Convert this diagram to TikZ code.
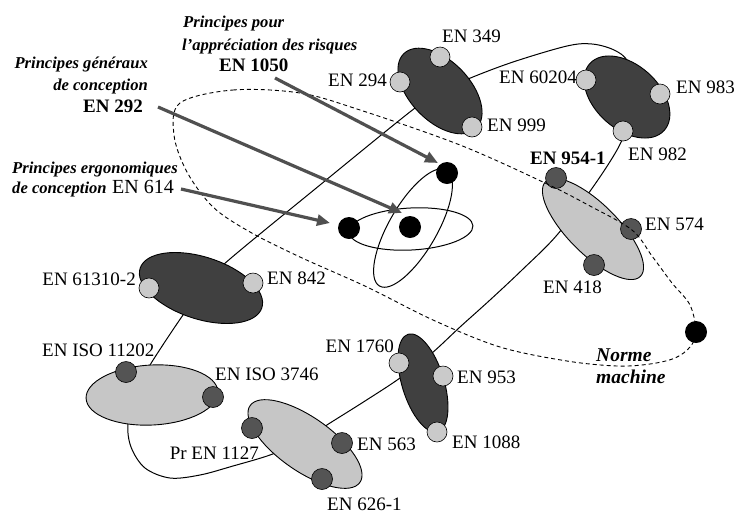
\documentclass[tikz,border=0pt]{standalone}
\usepackage{fontspec}
\setmainfont{Liberation Serif}
\usetikzlibrary{shapes.geometric,arrows.meta}
\definecolor{dkfill}{HTML}{404040}
\definecolor{ltfill}{HTML}{C6C6C6}
\definecolor{pinlt}{HTML}{CACACA}
\definecolor{pindk}{HTML}{545454}
\definecolor{arrowgray}{HTML}{505050}
\begin{document}
\begin{tikzpicture}[x=1pt,y=-1pt,
  traj/.style={line width=1pt},
  dashcurve/.style={line width=0.9pt, dash pattern=on 4pt off 3pt},
  orbit/.style={ellipse, draw=black, line width=1pt, inner sep=0pt, outer sep=0pt},
  clusterdark/.style={ellipse, draw=black, line width=0.9pt, fill=dkfill, inner sep=0pt, outer sep=0pt},
  clusterlight/.style={ellipse, draw=black, line width=0.9pt, fill=ltfill, inner sep=0pt, outer sep=0pt},
  pinlight/.style={circle, draw=black, line width=0.6pt, fill=pinlt, minimum size=20pt, inner sep=0pt},
  pindark/.style={circle, draw=black, line width=0.6pt, fill=pindk, minimum size=21pt, inner sep=0pt},
  blackdot/.style={circle, fill=black, minimum size=22pt, inner sep=0pt},
  bigarrow/.style={draw=arrowgray, line width=3.2pt, -{Triangle[length=13pt,width=11pt]}},
  lab/.style={font=\fontsize{19}{22}\selectfont, inner sep=0pt},
  labb/.style={font=\fontsize{19}{22}\selectfont\bfseries, inner sep=0pt},
  labi/.style={font=\fontsize{16.6}{20}\selectfont\bfseries\itshape, inner sep=0pt},
  labn/.style={font=\fontsize{19.5}{22}\selectfont\bfseries\itshape, inner sep=0pt}
]
\useasboundingbox (0,0) rectangle (736,515);

% trajectory linking the clusters
\draw[traj] plot[smooth cycle, tension=0.55] coordinates {
 (415,108) (441,92) (468,79) (513,62) (567,46) (592,44) (614,50) (628,62) (638,95)
 (628,125) (617,150) (593,187) (557,235) (522,270) (490,300) (460,327) (432,353)
 (400,378) (365,401) (330,423) (300,442) (270,455) (233,466) (200,475) (170,478)
 (145,468) (131,447) (128,423) (136,392) (150,365) (183,315) (203,289) (223,265) (320,185)};

% atom in the middle
\node[orbit, minimum width=124pt, minimum height=42pt, rotate=3] (orbH) at (411,229) {};
\node[orbit, minimum width=134pt, minimum height=48pt, rotate=60] (orbT) at (413,228) {};
\node[blackdot] (dTop) at (447,173) {};
\node[blackdot] (dLeft) at (349,228) {};
\node[blackdot] (dMid) at (410,227) {};

% clusters
\node[clusterdark, minimum width=104pt, minimum height=60pt, rotate=-46] (E1) at (440,91) {};
\node[pinlight] (p349) at (440,57) {};
\node[pinlight] (p294) at (400,82) {};
\node[pinlight] (p999) at (472,127) {};

\node[clusterdark, minimum width=100pt, minimum height=64pt, rotate=-42] (E2) at (627,97) {};
\node[pinlight] (p60204) at (586,80) {};
\node[pinlight] (p983) at (660,94) {};
\node[pinlight] (p982) at (623,131) {};

\node[clusterlight, minimum width=134pt, minimum height=50pt, rotate=-45] (E3) at (593,229) {};
\node[pindark] (p954) at (556,178) {};
\node[pindark] (p574) at (631,229) {};
\node[pindark] (p418) at (594,265) {};

\node[clusterdark, minimum width=128pt, minimum height=62pt, rotate=-18] (E4) at (201,288) {};
\node[pinlight] (p61310) at (149,288) {};
\node[pinlight] (p842) at (253,283) {};

\node[clusterlight, minimum width=132pt, minimum height=60pt, rotate=3] (E5) at (152,395) {};
\node[pindark] (p11202) at (126,372) {};
\node[pindark] (p3746) at (213,397) {};

\node[clusterlight, minimum width=134pt, minimum height=54pt, rotate=-35] (E6) at (305,444) {};
\node[pindark] (p1127) at (252,428) {};
\node[pindark] (p563) at (342,443) {};
\node[pindark] (p626) at (322,479) {};

\node[clusterdark, minimum width=102pt, minimum height=42pt, rotate=-73] (E7) at (423,383) {};
\node[pinlight] (p1760) at (399,363) {};
\node[pinlight] (p953) at (443,376) {};
\node[pinlight] (p1088) at (437,432) {};

% Norme machine dashed orbit
\draw[dashcurve] plot[smooth cycle, tension=0.55] coordinates {
 (180,103) (233,90) (300,93) (360,110) (460,145) (545,183) (590,206) (632,230)
 (652,256) (672,283) (690,305) (696,332) (690,347) (675,358) (650,364) (617,366)
 (567,361) (500,347) (433,320) (367,287) (300,257) (250,232) (213,207) (187,172) (174,135)};
\node[blackdot] (dNorme) at (696,332) {};

% labels
\node[lab, anchor=base west] (t349) at (442,42) {EN 349};
\node[lab, anchor=base east] (t294) at (387,86) {EN 294};
\node[lab, anchor=base west] (t999) at (487,131) {EN 999};
\node[lab, anchor=base east] (t60204) at (577,83) {EN 60204};
\node[lab, anchor=base west] (t983) at (676,93) {EN 983};
\node[lab, anchor=base west] (t982) at (628,160) {EN 982};
\node[labb, anchor=base west] (t954) at (530,164) {EN 954-1};
\node[lab, anchor=base west] (t574) at (645,230) {EN 574};
\node[lab, anchor=base west] (t418) at (543,293) {EN 418};
\node[lab, anchor=base east] (t61310) at (136,285) {EN 61310-2};
\node[lab, anchor=base west] (t842) at (267,284) {EN 842};
\node[lab, anchor=base west] (t11202) at (42,356) {EN ISO 11202};
\node[lab, anchor=base west] (t3746) at (215,380) {EN ISO 3746};
\node[lab, anchor=base east] (t1127) at (259,459) {Pr EN 1127};
\node[lab, anchor=base east] (t1760) at (394,352) {EN 1760};
\node[lab, anchor=base west] (t953) at (457,383) {EN 953};
\node[lab, anchor=base west] (t563) at (357,450) {EN 563};
\node[lab, anchor=base west] (t1088) at (452,448) {EN 1088};
\node[lab, anchor=base west] (t626) at (327,510) {EN 626-1};
\node[labn, anchor=base west] (tNorme) at (596,361) {Norme};
\node[labn, anchor=base west] (tMachine) at (596,383) {machine};

\node[labi, anchor=base west] (tPP1) at (183,27) {Principes pour};
\node[labi, anchor=base west] (tPP2) at (182,50) {l’appréciation des risques};
\node[labb, anchor=base west] (t1050) at (219,71) {EN 1050};
\node[labi, anchor=base east] (tPG1) at (148,68) {Principes généraux};
\node[labi, anchor=base east] (tPG2) at (148,90) {de conception};
\node[labb, anchor=base west] (t292) at (83,112) {EN 292};
\node[labi, anchor=base west] (tPE1) at (12,173) {Principes ergonomiques};
\node[labi, anchor=base west] (tPE2) at (12,193) {de conception};
\node[lab, font=\fontsize{20}{22}\selectfont, anchor=base west] (t614) at (112,193) {EN 614};

% arrows
\coordinate (a1050s) at (275,78);
\coordinate (a1050e) at (438,163);
\coordinate (a292s) at (158,107);
\coordinate (a292e) at (402,213);
\coordinate (a614s) at (181,189);
\coordinate (a614e) at (330,223);
\draw[bigarrow] (a1050s) -- (a1050e);
\draw[bigarrow] (a292s) -- (a292e);
\draw[bigarrow] (a614s) -- (a614e);
\end{tikzpicture}
\end{document}
